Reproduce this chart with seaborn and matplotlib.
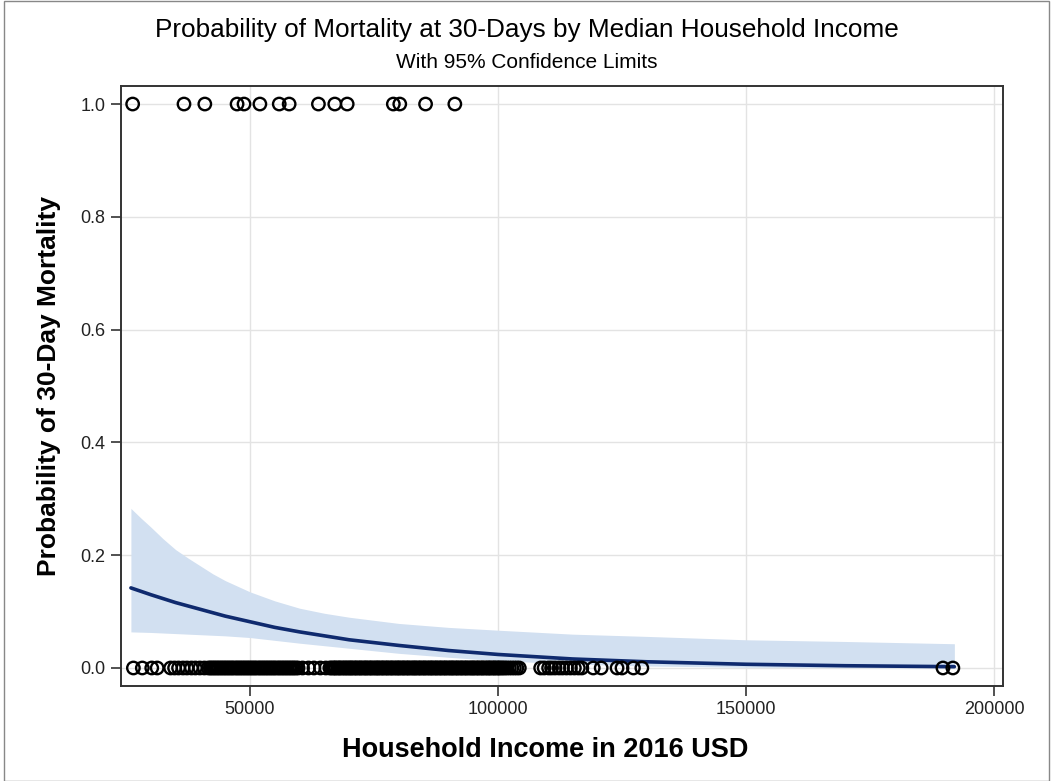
import numpy as np
import pandas as pd
import matplotlib
matplotlib.use("Agg")
import matplotlib.pyplot as plt
import seaborn as sns

# ---- data ----
died_income = [26350, 36700, 40900, 47400, 48800, 52000, 55900, 57900,
               63800, 67100, 69600, 78900, 80200, 85400, 91300]
survived_income = [
    26500, 28300, 30200, 31300,
    34000, 34800, 35600, 36500, 37300, 38200, 39000, 39900, 40800, 41600,
    42000, 42300, 42700, 43000, 43400, 43700, 44100, 44400, 44800, 45100,
    45500, 45800, 46200, 46500, 46900, 47300, 47600, 48000, 48300, 48700,
    49000, 49400, 49700, 50100, 50400, 50800, 51100, 51500, 51900, 52200,
    52600, 52900, 53300, 53600, 54000, 54300, 54700, 55000, 55400, 55800,
    56100, 56500, 56800, 57200, 57500, 57900, 58200, 58600, 58900, 59300,
    59700,
    60600, 61800, 62900, 64200, 65300,
    66100, 66400, 66800, 67100, 67300, 67700, 68000, 68200, 68600, 68900,
    69200, 69500, 69800, 70100, 70400, 70600, 71000, 71300, 71500, 71900,
    72200, 72400, 72800, 73100, 73400, 73600, 74000, 74300, 74500, 74900,
    75200, 75500, 75800, 76000, 76400, 76700, 76900, 77300, 77600, 77800,
    78200, 78500, 78700, 79100, 79400, 79700, 80000, 80200, 80600, 80900,
    81100, 81500, 81800, 82000, 82400, 82700, 83000, 83300, 83500, 83900,
    84200, 84400, 84800, 85100, 85300, 85700, 86000, 86300, 86600, 86800,
    87200, 87500, 87700, 88100, 88400, 88600, 89000, 89300, 89500, 89900,
    90200, 90500, 90800, 91000, 91400, 91700, 91900, 92300, 92600, 92800,
    93200, 93500, 93700, 94100, 94400, 94700, 95000, 95200, 95600, 95900,
    96100, 96500, 96800, 97000, 97400, 97700, 98000, 98300, 98500, 98900,
    99200, 99400, 99800, 100100, 100300, 100700, 101000, 101400, 101800,
    102300, 102800, 103300, 103800, 104300,
    108600, 109300, 110200, 110800, 111500, 112300, 113000, 113800, 114600,
    115400, 116200, 116900,
    119200, 120800, 124000, 125000, 127300, 129000,
    189700, 191700,
]

fit_income = [26000, 28000, 30000, 32500, 35000, 37500, 40000, 42500,
              45000, 50000, 55000, 60000, 65000, 70000, 80000, 90000,
              100000, 115000, 130000, 150000, 170000, 192000]
fit_prob = [0.142, 0.136, 0.130, 0.123, 0.116, 0.110, 0.104, 0.098,
            0.092, 0.082, 0.072, 0.064, 0.057, 0.050, 0.040, 0.031,
            0.024, 0.016, 0.011, 0.0066, 0.0040, 0.0023]
fit_lower = [0.064, 0.0635, 0.063, 0.062, 0.061, 0.060, 0.059, 0.058,
             0.057, 0.054, 0.049, 0.044, 0.0395, 0.035, 0.026, 0.019,
             0.013, 0.007, 0.0035, 0.0013, 0.0005, 0.0002]
fit_upper = [0.283, 0.266, 0.250, 0.229, 0.210, 0.195, 0.181, 0.167,
             0.155, 0.135, 0.119, 0.106, 0.097, 0.090, 0.079, 0.072,
             0.067, 0.060, 0.056, 0.050, 0.047, 0.043]

x_ticks = [50000, 100000, 150000, 200000]
y_ticks = [0.0, 0.2, 0.4, 0.6, 0.8, 1.0]

title = "Probability of Mortality at 30-Days by Median Household Income"
subtitle = "With 95% Confidence Limits"
x_label = "Household Income in 2016 USD"
y_label = "Probability of 30-Day Mortality"

# ---- build tables ----
pts = pd.DataFrame({
    "income": died_income + survived_income,
    "mortality": [1.0] * len(died_income) + [0.0] * len(survived_income),
})
fit = pd.DataFrame({"income": fit_income, "prob": fit_prob,
                    "lo": fit_lower, "hi": fit_upper})

sns.set_theme(style="whitegrid")
plt.rcParams["font.family"] = ["Liberation Sans", "DejaVu Sans"]

fig = plt.figure(figsize=(10.53, 7.81), dpi=100)
ax = fig.add_axes([0.1149, 0.1216, 0.9525 - 0.1149, 0.8899 - 0.1216])

ax.fill_between(fit["income"], fit["lo"], fit["hi"], color="#d2e0f1",
                linewidth=0, zorder=1)
sns.lineplot(data=fit, x="income", y="prob", ax=ax, color="#0f2a6e",
             linewidth=2.6, zorder=2)
sns.scatterplot(data=pts, x="income", y="mortality", ax=ax, s=80,
                facecolor="none", edgecolor="black", linewidth=1.7,
                zorder=3)

ax.set_xlim(24000, 201800)
ax.set_ylim(-0.032, 1.032)
ax.set_xticks(x_ticks)
ax.set_xticklabels([str(v) for v in x_ticks])
ax.set_yticks(y_ticks)
ax.set_yticklabels([f"{v:.1f}" for v in y_ticks])

ax.grid(True, color="#e3e3e3", linewidth=1.0)
for s in ax.spines.values():
    s.set_color("#333333")
    s.set_linewidth(1.4)
ax.tick_params(axis="both", which="major", length=7, width=1.2,
               color="#333333", labelsize=13, labelcolor="#222222",
               direction="out", bottom=True, left=True, pad=4)

ax.set_xlabel(x_label, fontsize=19.5, fontweight="bold", labelpad=14,
              color="black")
ax.xaxis.set_label_coords(0.481, -0.085)
ax.set_ylabel(y_label, fontsize=19, fontweight="bold", labelpad=14,
              color="black")

fig.text(0.5, 0.961, title, ha="center", va="center", fontsize=18.8,
         color="black")
fig.text(0.5, 0.920, subtitle, ha="center", va="center", fontsize=15,
         color="black")

fig.patches.append(plt.Rectangle((0.004, 0.0), 0.992, 0.999,
                                 transform=fig.transFigure, fill=False,
                                 edgecolor="#888888", linewidth=1.0))

fig.savefig("out.png", dpi=100)
